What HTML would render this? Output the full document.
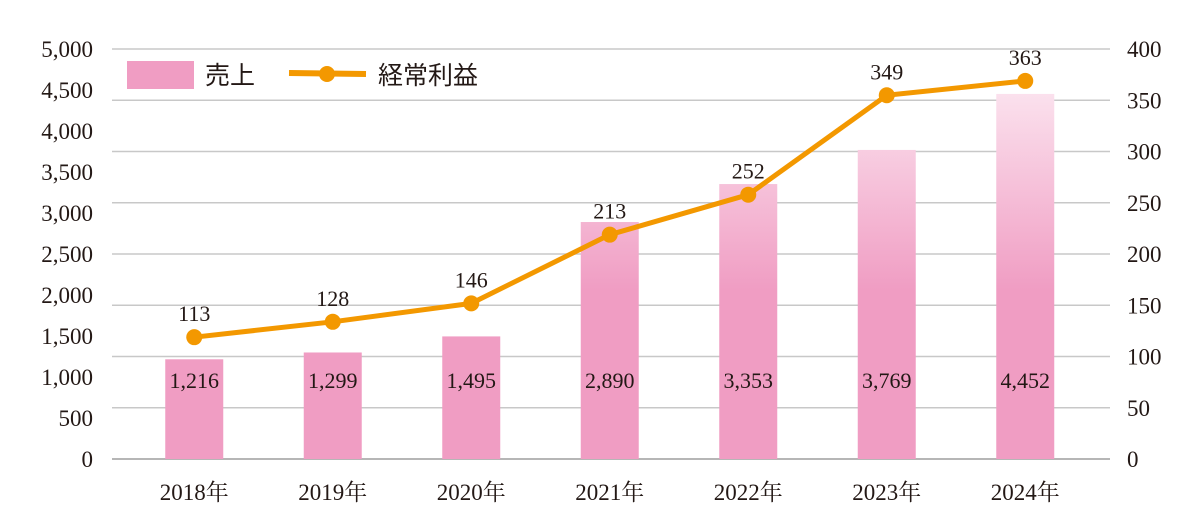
<!DOCTYPE html>
<html><head><meta charset="utf-8"><style>
html,body{margin:0;padding:0;background:#fff;}
svg{display:block;font-family:"Liberation Serif","Noto Serif CJK SC",serif;}
</style></head><body>
<svg width="1200" height="524" viewBox="0 0 1200 524">
<defs>
<linearGradient id="barGrad" gradientUnits="userSpaceOnUse" x1="0" y1="90" x2="0" y2="290">
<stop offset="0" stop-color="#fbe2ee"/><stop offset="1" stop-color="#f09dc3"/>
</linearGradient>
</defs>
<g id="grid"></g>
<g id="bars"></g>
<g id="line"></g>
<g id="axes"></g>
<g>
<rect x="127" y="61" width="67" height="28" fill="#f09dc3"/>
<text x="205" y="84" font-size="25" fill="#231815" font-family="'Liberation Sans','Noto Sans CJK JP',sans-serif">売上</text>
<line x1="289" y1="73" x2="366" y2="74" stroke="#f39800" stroke-width="6"/>
<circle cx="327" cy="74" r="8" fill="#f39800"/>
<text x="378" y="84" font-size="25" fill="#231815" font-family="'Liberation Sans','Noto Sans CJK JP',sans-serif">経常利益</text>
</g>
</svg>
<script>
const categories=["2018年","2019年","2020年","2021年","2022年","2023年","2024年"];
const sales=[1216,1299,1495,2890,3353,3769,4452];
const profit=[113,128,146,213,252,349,363];
const leftTicks=[0,500,1000,1500,2000,2500,3000,3500,4000,4500,5000];
const rightTicks=[0,50,100,150,200,250,300,350,400];
const NS="http://www.w3.org/2000/svg";
const y0=459,yTop=49,h=y0-yTop;
const yL=v=>y0-v/5000*h;
const yR=v=>y0-v/400*h;
const step=138.5,x0=125;
const xC=i=>x0+step*(i+0.5);
function mk(tag,attrs,parent){const e=document.createElementNS(NS,tag);for(const k in attrs)e.setAttribute(k,attrs[k]);parent.appendChild(e);return e;}
const grid=document.getElementById('grid'),bars=document.getElementById('bars'),line=document.getElementById('line'),axes=document.getElementById('axes');
rightTicks.forEach(t=>{const l=mk('line',{x1:112,x2:1110,y1:yR(t),y2:yR(t),stroke:t===0?'#9e9e9e':'#c8c8c8','stroke-width':1.5},grid);


const tx=mk('text',{x:1127,y:yR(t)+8,'font-size':23,fill:'#231815'},axes);tx.textContent=t;

});
leftTicks.forEach(t=>{const tx=mk('text',{x:93,y:yL(t)+8,'font-size':23,fill:'#231815','text-anchor':'end'},axes);tx.textContent=t.toLocaleString('en-US');

});
categories.forEach((c,i)=>{const tx=mk('text',{x:xC(i),y:500,'font-size':23,fill:'#231815','text-anchor':'middle'},axes);tx.textContent=c;

});
sales.forEach((v,i)=>{const r=mk('rect',{x:xC(i)-29,y:yL(v),width:58,height:y0-yL(v),fill:'url(#barGrad)'},bars);


const tx=mk('text',{x:xC(i),y:388,'font-size':22,fill:'#231815','text-anchor':'middle'},bars);tx.textContent=v.toLocaleString('en-US');

});
const pts=profit.map((v,i)=>xC(i)+','+(yR(v)-6)).join(' ');
const pl=mk('polyline',{points:pts,fill:'none',stroke:'#f39800','stroke-width':5,'stroke-linejoin':'round'},line);


profit.forEach((v,i)=>{const c=mk('circle',{cx:xC(i),cy:yR(v)-6,r:8,fill:'#f39800'},line);


const tx=mk('text',{x:xC(i),y:yR(v)-22,'font-size':22,fill:'#231815','text-anchor':'middle'},line);tx.textContent=v;

});
</script>
</body></html>
